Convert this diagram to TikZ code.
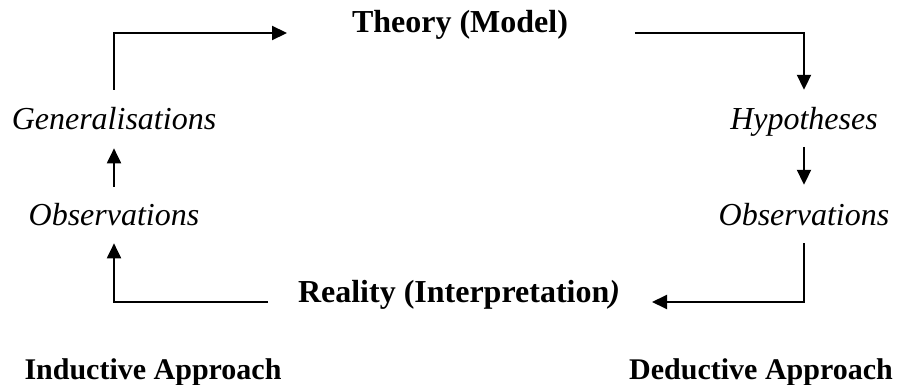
\documentclass[tikz,border=0pt]{standalone}
\usepackage{fontspec}
\setmainfont{Liberation Serif}
\usetikzlibrary{arrows.meta}
\begin{document}
\begin{tikzpicture}[x=1pt,y=-1pt,
  lbl/.style={inner sep=0pt, outer sep=0pt, anchor=base, font=\fontsize{32}{38}\selectfont},
  head/.style={lbl, font=\fontsize{32}{38}\selectfont\bfseries},
  stage/.style={lbl, font=\fontsize{32}{38}\selectfont\itshape},
  approach/.style={lbl, font=\fontsize{30}{36}\selectfont\bfseries},
  link/.style={line width=2pt, -{Triangle[length=15pt,width=14pt]}}]
\useasboundingbox (0,0) rectangle (897,385);

% cycle labels
\node[head]  (theory)  at (460,33)  {Theory (Model)};
\node[head]  (reality) at (459,302) {Reality (Interpretation\textit{)}};
\node[stage] (gen)     at (114,130) {Generalisations};
\node[stage] (obsL)    at (114,225) {Observations};
\node[stage] (hyp)     at (804,130) {Hypotheses};
\node[stage] (obsR)    at (804,225) {Observations};

% approach captions
\node[approach] (ind) at (153,379) {Inductive Approach};
\node[approach] (ded) at (761,379) {Deductive Approach};

% inductive side: reality -> observations -> generalisations -> theory
\draw[link, shorten <=30pt, shorten >=18pt] (reality.base west) -| (obsL.south);
\draw[link, shorten <=16pt, shorten >=18pt] (obsL.north) -- (gen.south);
\draw[link, shorten <=18pt, shorten >=65pt] (gen.north) |- (theory.base west);

% deductive side: theory -> hypotheses -> observations -> reality
\draw[link, shorten <=67pt, shorten >=18pt] (theory.base east) -| (hyp.north);
\draw[link, shorten <=10pt, shorten >=18pt] (hyp.south) -- (obsR.north);
\draw[link, shorten <=18pt, shorten >=32pt] (obsR.south) |- (reality.base east);
\end{tikzpicture}
\end{document}
